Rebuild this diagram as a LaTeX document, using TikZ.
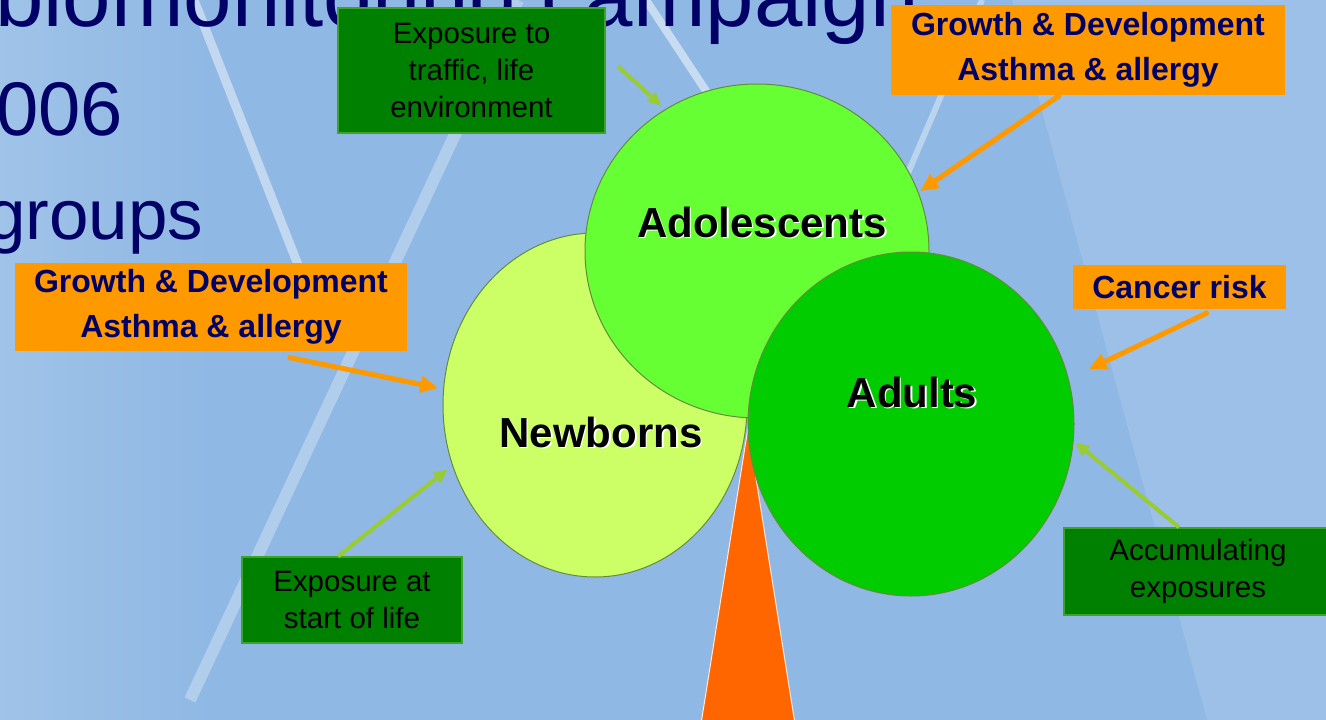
\documentclass[tikz,border=0pt]{standalone}
\usepackage{fontspec}
\setmainfont{Liberation Sans}
\usepackage{xcolor}
\usepackage{tikz}
\usetikzlibrary{shapes.geometric}
\usetikzlibrary{arrows.meta}

\definecolor{slideblue}{RGB}{143,184,228}
\definecolor{titlenavy}{RGB}{0,0,102}
\definecolor{labelorange}{RGB}{255,153,0}
\definecolor{boxgreen}{RGB}{0,128,0}
\definecolor{boxedge}{RGB}{60,165,40}
\definecolor{arrowlime}{RGB}{153,204,51}
\definecolor{newbornfill}{RGB}{204,255,102}
\definecolor{adolfill}{RGB}{102,255,51}
\definecolor{adultfill}{RGB}{0,204,0}
\definecolor{ringedge}{RGB}{100,140,60}
\definecolor{trunkorange}{RGB}{255,102,0}

\tikzset{
    agecircle/.style={ellipse, draw=ringedge, line width=1pt, inner sep=0pt},
    agetext/.style={font=\fontsize{42}{46}\selectfont\bfseries, text=black, inner sep=0pt},
    riskbox/.style={fill=labelorange, text=titlenavy, align=center, inner sep=0pt,
        font=\fontsize{32}{45}\selectfont\bfseries},
    exposurebox/.style={fill=boxgreen, draw=boxedge, line width=1.5pt, align=center,
        inner sep=0pt, text=black, font=\fontsize{29.5}{37}\selectfont},
    riskarrow/.style={draw=labelorange, line width=5pt, -{Triangle[length=18pt,width=16pt]}},
    exposurearrow/.style={draw=arrowlime, line width=4pt, -{Triangle[length=14pt,width=12pt]}},
    slidetext/.style={text=titlenavy, inner sep=0pt, anchor=base west}
}

\newcommand{\agename}[3]{%
    \node[agetext, text=white, xshift=1.5pt, yshift=-1.5pt] at (#2) {#3};
    \node[agetext] (#1) at (#2) {#3};}

\begin{document}
\begin{tikzpicture}[x=1pt,y=-1pt]
        %FRAME
        \path[use as bounding box] (0,0) rectangle (1326,720);
        \clip (0,0) rectangle (1326,720);

        %BACKGROUND
        \fill[slideblue] (0,0) rectangle (1326,720);
        \shade[left color=slideblue!85!white, right color=slideblue] (0,0) rectangle (210,720);
        \fill[white, opacity=0.12] (1012,0) -- (1326,0) -- (1326,720) -- (1207,720) -- cycle;

        %STREAKS
        \draw[white, opacity=0.45, line width=9pt] (194,0) -- (302,275);
        \draw[white, opacity=0.3, line width=12pt] (518,0) -- (190,700);
        \draw[white, opacity=0.5, line width=8pt] (646,0) -- (712,100);
        \draw[white, opacity=0.4, line width=6pt] (982,0) -- (905,180);

        %SLIDE TEXT
        \node[slidetext, font=\fontsize{87}{95}\selectfont] (title) at (-5,27) {biomonitoring campaign};
        \node[slidetext, font=\fontsize{76}{80}\selectfont] (year) at (-4,135) {006};
        \node[slidetext, font=\fontsize{71}{80}\selectfont] (groups) at (-14,239) {groups};

        %TRUNK
        \fill[trunkorange, draw=white!85!trunkorange, line width=1pt] (748,428) -- (795,724) -- (701,724) -- cycle;

        %CIRCLES
        \node[agecircle, fill=newbornfill, minimum width=304pt, minimum height=344pt] (newborn) at (595,405) {};
        \node[agecircle, fill=adolfill, minimum width=344pt, minimum height=334pt] (adol) at (757,251) {};
        \node[agecircle, fill=adultfill, minimum width=326pt, minimum height=344pt] (adult) at (911,424) {};

        \agename{teenname}{762,222}{Adolescents}
        \agename{babyname}{601,432}{Newborns}
        \agename{adultname}{912,392}{Adults}

        %EXPOSURE BOXES
        \node[exposurebox, minimum width=267pt, minimum height=125pt] (traffic) at (471.5,70.5) {Exposure to\\traffic, life\\environment};
        \node[exposurebox, minimum width=220pt, minimum height=86pt] (birthexp) at (352,600) {Exposure at\\start of life};
        \node[exposurebox, minimum width=268pt, minimum height=87pt] (accum) at (1198,571.5) {Accumulating\\exposures};

        %RISK BOXES
        \node[riskbox, minimum width=394pt, minimum height=90pt] (riskteen) at (1088,50) {Growth \& Development\\Asthma \& allergy};
        \node[riskbox, minimum width=392pt, minimum height=88pt] (riskkid) at (211,307) {Growth \& Development\\Asthma \& allergy};
        \node[riskbox, minimum width=213pt, minimum height=44pt] (riskadult) at (1179.5,287) {Cancer risk};

        %ARROWS
        \draw[riskarrow, shorten >=2pt] ([xshift=-28pt]riskteen.south) -- (adol.20);
        \draw[riskarrow, shorten >=5pt] ([xshift=77pt,yshift=-6pt]riskkid.south) -- (newborn.174);
        \draw[riskarrow, shorten >=22pt] ([xshift=29pt,yshift=-3pt]riskadult.south) -- (adult.16);
        \draw[exposurearrow, shorten >=5pt] ([xshift=12pt,yshift=4.5pt]traffic.east) -- (adol.123);
        \draw[exposurearrow, shorten >=6pt] ([xshift=-14pt]birthexp.north) -- (newborn.203);
        \draw[exposurearrow, shorten >=2pt] ([xshift=-19pt]accum.north) -- (adult.354);
\end{tikzpicture}
\end{document}
